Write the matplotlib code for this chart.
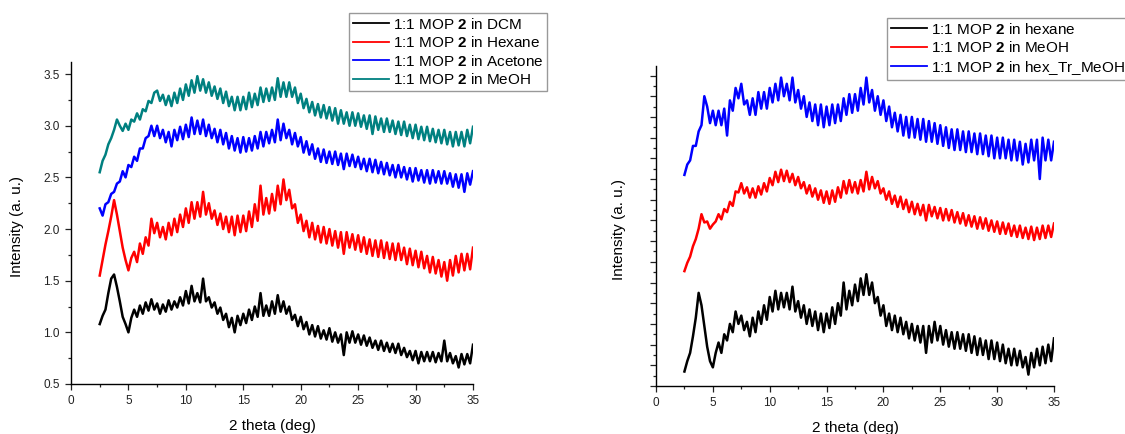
import numpy as np
import matplotlib
matplotlib.use('Agg')
import matplotlib.pyplot as plt
from matplotlib.ticker import MultipleLocator, NullFormatter

plt.rcParams['font.family'] = ['Liberation Sans', 'DejaVu Sans']
plt.rcParams['mathtext.fontset'] = 'custom'
plt.rcParams['mathtext.rm'] = 'Liberation Sans'
plt.rcParams['mathtext.bf'] = 'Liberation Sans:bold'

# -------- data (2 theta 2.5 .. 35, step 0.25) --------
two_theta = np.linspace(2.5, 35, 131)

# left panel, intensity (a. u.)
dcm = [1.08, 1.16, 1.22, 1.38,
       1.52, 1.56, 1.44, 1.30,
       1.15, 1.08, 1.00, 1.14,
       1.22, 1.15, 1.26, 1.18,
       1.29, 1.21, 1.32, 1.22,
       1.28, 1.18, 1.27, 1.20,
       1.31, 1.22, 1.30, 1.24,
       1.34, 1.26, 1.40, 1.28,
       1.45, 1.30, 1.38, 1.29,
       1.52, 1.30, 1.34, 1.24,
       1.29, 1.18, 1.24, 1.12,
       1.18, 1.05, 1.14, 1.00,
       1.16, 1.07, 1.18, 1.09,
       1.22, 1.12, 1.25, 1.15,
       1.38, 1.16, 1.26, 1.16,
       1.30, 1.18, 1.36, 1.20,
       1.30, 1.18, 1.25, 1.12,
       1.17, 1.06, 1.15, 1.03,
       1.10, 0.98, 1.07, 0.96,
       1.06, 0.94, 1.02, 0.93,
       1.04, 0.91, 1.00, 0.90,
       0.98, 0.78, 1.00, 0.90,
       1.01, 0.90, 0.98, 0.88,
       0.97, 0.87, 0.95, 0.85,
       0.92, 0.83, 0.92, 0.82,
       0.90, 0.81, 0.89, 0.80,
       0.89, 0.78, 0.85, 0.76,
       0.82, 0.73, 0.82, 0.70,
       0.81, 0.72, 0.81, 0.72,
       0.81, 0.71, 0.80, 0.72,
       0.92, 0.72, 0.80, 0.70,
       0.77, 0.66, 0.79, 0.69,
       0.79, 0.70, 0.88]

hexane = [1.55, 1.70, 1.85, 1.98,
          2.12, 2.28, 2.14, 1.98,
          1.82, 1.70, 1.60, 1.72,
          1.78, 1.68, 1.86, 1.76,
          1.92, 1.84, 2.10, 1.96,
          2.06, 1.92, 2.02, 1.90,
          2.06, 1.94, 2.10, 1.97,
          2.14, 2.02, 2.20, 2.06,
          2.26, 2.10, 2.26, 2.12,
          2.36, 2.14, 2.25, 2.10,
          2.18, 2.04, 2.15, 2.00,
          2.12, 1.97, 2.12, 1.94,
          2.13, 1.97, 2.13, 1.98,
          2.17, 2.02, 2.24, 2.08,
          2.42, 2.14, 2.30, 2.15,
          2.34, 2.18, 2.42, 2.24,
          2.48, 2.28, 2.38, 2.20,
          2.24, 2.06, 2.14, 1.98,
          2.08, 1.92, 2.06, 1.90,
          2.03, 1.87, 2.02, 1.86,
          2.00, 1.84, 1.98, 1.82,
          1.97, 1.76, 1.97, 1.82,
          1.95, 1.80, 1.94, 1.78,
          1.92, 1.76, 1.90, 1.74,
          1.89, 1.73, 1.89, 1.72,
          1.87, 1.71, 1.86, 1.70,
          1.86, 1.70, 1.82, 1.66,
          1.81, 1.65, 1.79, 1.63,
          1.78, 1.62, 1.74, 1.58,
          1.73, 1.57, 1.70, 1.54,
          1.68, 1.50, 1.70, 1.55,
          1.74, 1.58, 1.76, 1.60,
          1.76, 1.61, 1.82]

acetone = [2.20, 2.13, 2.24, 2.26,
           2.34, 2.36, 2.44, 2.46,
           2.56, 2.50, 2.62, 2.60,
           2.70, 2.66, 2.78, 2.78,
           2.88, 2.90, 3.00, 2.90,
           3.00, 2.88, 2.96, 2.84,
           2.94, 2.80, 2.96, 2.86,
           2.99, 2.87, 3.01, 2.89,
           3.08, 2.92, 3.05, 2.92,
           3.06, 2.90, 3.01, 2.88,
           2.97, 2.84, 2.96, 2.82,
           2.93, 2.78, 2.90, 2.76,
           2.88, 2.74, 2.89, 2.75,
           2.88, 2.76, 2.90, 2.78,
           2.94, 2.80, 2.94, 2.83,
           2.96, 2.84, 3.06, 2.86,
           3.02, 2.88, 2.96, 2.82,
           2.93, 2.80, 2.89, 2.74,
           2.85, 2.72, 2.82, 2.68,
           2.78, 2.65, 2.77, 2.64,
           2.75, 2.63, 2.75, 2.62,
           2.73, 2.58, 2.73, 2.61,
           2.72, 2.60, 2.70, 2.58,
           2.68, 2.56, 2.68, 2.55,
           2.67, 2.54, 2.65, 2.53,
           2.64, 2.52, 2.62, 2.50,
           2.62, 2.50, 2.60, 2.48,
           2.59, 2.46, 2.59, 2.47,
           2.57, 2.45, 2.57, 2.44,
           2.57, 2.45, 2.56, 2.44,
           2.56, 2.44, 2.54, 2.41,
           2.53, 2.40, 2.53, 2.36,
           2.54, 2.43, 2.56]

meoh = [2.55, 2.66, 2.72, 2.82,
        2.88, 2.96, 3.06, 3.00,
        2.95, 3.02, 2.96, 3.06,
        3.04, 3.12, 3.06, 3.16,
        3.14, 3.24, 3.22, 3.32,
        3.34, 3.24, 3.30, 3.20,
        3.29, 3.19, 3.32, 3.22,
        3.36, 3.25, 3.40, 3.29,
        3.44, 3.32, 3.48, 3.34,
        3.45, 3.32, 3.42, 3.29,
        3.38, 3.26, 3.36, 3.22,
        3.33, 3.19, 3.28, 3.15,
        3.28, 3.15, 3.28, 3.16,
        3.32, 3.18, 3.31, 3.20,
        3.37, 3.23, 3.36, 3.24,
        3.37, 3.25, 3.46, 3.28,
        3.42, 3.28, 3.42, 3.28,
        3.37, 3.22, 3.31, 3.17,
        3.26, 3.13, 3.23, 3.10,
        3.21, 3.08, 3.20, 3.07,
        3.18, 3.05, 3.17, 3.02,
        3.15, 3.02, 3.13, 3.00,
        3.13, 3.00, 3.12, 2.99,
        3.10, 2.97, 3.10, 2.92,
        3.09, 2.96, 3.07, 2.94,
        3.07, 2.94, 3.05, 2.92,
        3.04, 2.91, 3.04, 2.90,
        3.01, 2.88, 3.01, 2.87,
        2.99, 2.86, 2.99, 2.85,
        2.97, 2.84, 2.96, 2.83,
        2.96, 2.82, 2.94, 2.80,
        2.94, 2.81, 2.94, 2.80,
        2.96, 2.83, 2.99]

# right panel, intensity in tick units (axis carries no numbers)
r_hexane = [0.70, 1.20, 1.60, 2.40,
            3.30, 4.50, 3.90, 2.90,
            1.90, 1.20, 0.90, 1.60,
            2.10, 1.60, 2.50, 2.20,
            3.00, 2.60, 3.60, 3.00,
            3.40, 2.70, 3.10, 2.40,
            3.30, 2.60, 3.60, 3.00,
            3.90, 3.20, 4.30, 3.60,
            4.60, 3.70, 4.50, 3.80,
            4.50, 3.70, 4.80, 3.60,
            4.10, 3.30, 3.90, 3.00,
            3.70, 2.90, 3.60, 2.70,
            3.50, 2.60, 3.50, 2.80,
            3.80, 3.00, 4.00, 3.40,
            5.00, 3.70, 4.60, 3.90,
            4.90, 4.10, 5.20, 4.40,
            5.40, 4.40, 5.00, 4.00,
            4.30, 3.40, 3.90, 2.90,
            3.50, 2.70, 3.40, 2.60,
            3.30, 2.50, 3.10, 2.30,
            3.00, 2.20, 2.90, 2.10,
            2.90, 1.60, 2.90, 2.10,
            3.10, 2.20, 2.90, 2.00,
            2.70, 1.90, 2.60, 1.80,
            2.60, 1.80, 2.50, 1.70,
            2.50, 1.60, 2.40, 1.50,
            2.30, 1.50, 2.20, 1.30,
            2.20, 1.30, 2.10, 1.20,
            2.00, 1.10, 1.80, 1.00,
            1.80, 1.00, 1.70, 0.90,
            1.40, 0.55, 1.60, 0.90,
            1.80, 1.00, 1.90, 1.10,
            2.00, 1.20, 2.30]

r_meoh = [5.55, 5.95, 6.25, 6.75,
          7.10, 7.60, 8.30, 7.90,
          7.95, 7.60, 7.80, 7.95,
          8.30, 8.05, 8.55, 8.40,
          8.90, 8.70, 9.40, 9.35,
          9.80, 9.30, 9.60, 9.10,
          9.55, 9.10, 9.65, 9.25,
          9.80, 9.40, 10.05, 9.70,
          10.35, 9.85, 10.45, 9.90,
          10.40, 9.85, 10.25, 9.70,
          10.10, 9.55, 9.85, 9.30,
          9.70, 9.15, 9.55, 9.00,
          9.45, 8.85, 9.40, 8.80,
          9.45, 8.90, 9.60, 9.10,
          9.90, 9.30, 9.95, 9.35,
          9.85, 9.30, 9.95, 9.40,
          10.35, 9.50, 10.10, 9.55,
          9.90, 9.30, 9.55, 9.00,
          9.40, 8.80, 9.20, 8.65,
          9.15, 8.55, 9.00, 8.40,
          8.90, 8.30, 8.80, 8.25,
          8.75, 8.00, 8.75, 8.20,
          8.65, 8.10, 8.60, 8.00,
          8.55, 8.00, 8.50, 7.90,
          8.40, 7.85, 8.35, 7.75,
          8.25, 7.70, 8.20, 7.60,
          8.15, 7.60, 8.10, 7.50,
          8.00, 7.45, 7.95, 7.35,
          7.90, 7.35, 7.85, 7.25,
          7.75, 7.20, 7.75, 7.15,
          7.65, 7.10, 7.70, 7.05,
          7.65, 7.10, 7.75, 7.15,
          7.75, 7.20, 7.85]

r_hex_tr_meoh = [10.20, 10.70, 10.90, 11.60,
                 11.60, 12.30, 12.60, 14.00,
                 13.50, 12.70, 13.30, 12.60,
                 13.30, 12.60, 13.40, 12.10,
                 13.80, 13.30, 14.40, 13.90,
                 14.60, 13.60, 13.80, 13.10,
                 13.90, 13.10, 14.20, 13.40,
                 14.20, 13.40, 14.40, 13.70,
                 14.60, 13.80, 14.90, 14.00,
                 14.60, 13.80, 14.90, 13.70,
                 14.30, 13.40, 14.00, 13.00,
                 13.70, 12.80, 13.60, 12.60,
                 13.60, 12.50, 13.50, 12.60,
                 13.60, 12.70, 13.60, 12.80,
                 13.90, 13.10, 14.10, 13.20,
                 14.10, 13.30, 14.40, 13.60,
                 14.90, 13.70, 14.30, 13.30,
                 14.00, 13.10, 13.80, 12.80,
                 13.50, 12.50, 13.20, 12.30,
                 13.10, 12.10, 13.00, 12.00,
                 13.00, 12.00, 12.90, 11.90,
                 12.90, 11.80, 12.80, 11.80,
                 12.70, 11.70, 12.60, 11.60,
                 12.50, 11.50, 12.40, 11.40,
                 12.40, 11.40, 12.30, 11.30,
                 12.30, 11.30, 12.20, 11.20,
                 12.20, 11.20, 12.10, 11.10,
                 12.10, 11.00, 12.00, 11.00,
                 12.00, 11.00, 11.90, 10.90,
                 11.90, 10.90, 11.80, 10.70,
                 11.70, 10.80, 11.90, 10.90,
                 11.90, 10.00, 12.00, 10.90,
                 11.90, 10.90, 11.80]

left_labels = ['DCM', 'Hexane', 'Acetone', 'MeOH']
right_labels = ['hexane', 'MeOH', 'hex_Tr_MeOH']

BLACK, RED, BLUE, TEAL = '#000000', '#ff0000', '#0000ff', '#008080'


def mop_label(solvent):
    return '1:1 MOP $\\mathbf{2}$ in ' + solvent


def style_axes(ax):
    for side in ['top', 'right']:
        ax.spines[side].set_visible(False)
    for side in ['left', 'bottom']:
        ax.spines[side].set_linewidth(1.0)
    ax.tick_params(which='both', direction='out', colors='#222222', labelsize=8.5, width=0.9)
    ax.tick_params(which='major', length=4, pad=4)
    ax.tick_params(which='minor', length=2.5)
    ax.set_xlim(0, 35)
    ax.xaxis.set_major_locator(MultipleLocator(5))
    ax.xaxis.set_minor_locator(MultipleLocator(2.5))
    ax.set_xlabel('2 theta (deg)', fontsize=11)
    ax.set_ylabel('Intensity (a. u.)', fontsize=11)


fig = plt.figure(figsize=(11.25, 4.34), dpi=100)

# -------- left panel --------
ax1 = fig.add_axes([71 / 1125, 1 - 384 / 434, 402 / 1125, 322 / 434])
for vals, col, name in zip([dcm, hexane, acetone, meoh], [BLACK, RED, BLUE, TEAL], left_labels):
    line, = ax1.plot(two_theta, vals, color=col, lw=1.8, label=mop_label(name))
style_axes(ax1)
ax1.set_ylim(0.5, 3.617)
ax1.yaxis.set_major_locator(MultipleLocator(0.5))
ax1.yaxis.set_minor_locator(MultipleLocator(0.25))
ax1.xaxis.set_label_coords(0.5, -0.108)
ax1.yaxis.set_label_coords(-0.118, 0.49)
leg1 = ax1.legend(loc='upper left', bbox_to_anchor=(349 / 1125, 1 - 13 / 434), bbox_transform=fig.transFigure,
                  fontsize=11, frameon=True, fancybox=False, edgecolor='#999999', framealpha=1,
                  borderaxespad=0, borderpad=0.25, handlelength=2.4, handletextpad=0.2, labelspacing=0.22)
for h in leg1.get_lines():
    h.set_linewidth(1.3)

# -------- right panel --------
ax2 = fig.add_axes([656 / 1125, 1 - 386 / 434, 398 / 1125, 320 / 434])
for vals, col, name in zip([r_hexane, r_meoh, r_hex_tr_meoh], [BLACK, RED, BLUE], right_labels):
    ax2.plot(two_theta, vals, color=col, lw=1.8, label=mop_label(name))
style_axes(ax2)
ax2.set_ylim(0, 15.46)
ax2.yaxis.set_major_locator(MultipleLocator(1))
ax2.yaxis.set_minor_locator(MultipleLocator(0.5))
ax2.yaxis.set_major_formatter(NullFormatter())
ax2.xaxis.set_label_coords(0.5, -0.108)
ax2.yaxis.set_label_coords(-0.075, 0.49)
leg2 = ax2.legend(loc='upper left', bbox_to_anchor=(887 / 1125, 1 - 18 / 434), bbox_transform=fig.transFigure,
                  fontsize=11, frameon=True, fancybox=False, edgecolor='#999999', framealpha=1,
                  borderaxespad=0, borderpad=0.25, handlelength=2.4, handletextpad=0.2, labelspacing=0.22)
for h in leg2.get_lines():
    h.set_linewidth(1.3)

fig.savefig('out.png', dpi=100)
